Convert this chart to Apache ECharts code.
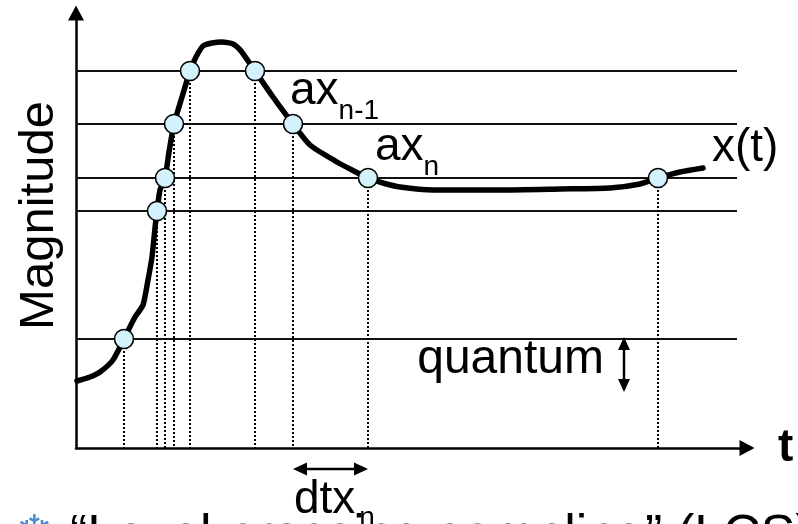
<!DOCTYPE html>
<html>
<head>
<meta charset="utf-8">
<script src="https://cdn.jsdelivr.net/npm/echarts@6/dist/echarts.min.js"></script>
<style>
  html, body { margin: 0; padding: 0; background: #fff; }
  #chart { width: 798px; height: 524px; }
</style>
</head>
<body>
<div id="chart"></div>
<script>
// Signal x(t): time / magnitude samples along the curve
const curveT = [0.01, 0.14, 0.24, 0.37, 0.48, 0.59, 0.67, 0.72, 0.76, 0.79, 0.81, 0.84, 0.89, 0.93, 0.98,
                1.06, 1.14, 1.20, 1.27, 1.36, 1.46, 1.57, 1.65, 1.79, 1.97, 2.17, 2.34, 2.61, 2.76, 2.92,
                3.07, 3.24, 3.57, 4.24, 4.84, 5.34, 5.64, 5.82, 6.04, 6.27];
const curveM = [0.67, 0.71, 0.76, 0.88, 1.09, 1.31, 1.43, 1.68, 1.91, 2.20, 2.37, 2.58, 2.70, 2.96, 3.24,
                3.51, 3.77, 3.91, 4.02, 4.05, 4.06, 4.04, 3.97, 3.77, 3.51, 3.24, 3.03, 2.86, 2.78, 2.70,
                2.65, 2.61, 2.58, 2.58, 2.59, 2.60, 2.64, 2.70, 2.76, 2.80];

// Quantisation levels and the quantum step
const levels = [1.09, 2.37, 2.70, 3.24, 3.77];
const levelEnd = 6.61;
const quantum = 0.53;
const quantumT = 5.48;

// Level-crossing instants and the level crossed at each
const sampleT = [0.48, 0.81, 0.89, 0.98, 1.14, 1.79, 2.17, 2.92, 5.82];
const sampleM = [1.09, 2.37, 2.70, 3.24, 3.77, 3.77, 3.24, 2.70, 2.70];

// Axis extents
const tMax = 6.71;
const mMax = 4.35;

// Annotation texts (main part + subscript)
const annoMain = ['ax', 'ax', 'x(t)'];
const annoSub = ['n-1', 'n', ''];
const annoT = [sampleT[6], sampleT[7], curveT[curveT.length - 1]];
const annoM = [sampleM[6], sampleM[7], curveM[curveM.length - 1]];

// Caption line under the diagram
const captionBullet = '\u2744';
const captionText = '\u201CLevel-crossing sampling\u201D (LCS)';

const FONT = '"Liberation Sans", Arial, Helvetica, sans-serif';
const MID = 0.31; // em-box middle sits this far above the alphabetic baseline

const ctx2d = document.createElement('canvas').getContext('2d');
function measure(s, size, weight) {
  ctx2d.font = (weight || 'normal') + ' ' + size + 'px ' + FONT;
  return ctx2d.measureText(s).width;
}
function txt(s, x, base, size, weight, align, family, fill) {
  return {
    type: 'text', x: x, y: base - MID * size,
    style: { text: s, font: (weight || 'normal') + ' ' + size + 'px ' + (family || FONT), fill: fill || '#000',
             align: align || 'left', verticalAlign: 'middle' }
  };
}
// main text followed by a lowered, smaller subscript
function withSub(main, sub, x, base, size, subSize, drop, gap) {
  const els = [txt(main, x, base, size)];
  if (sub) els.push(txt(sub, x + measure(main, size) + (gap || 0), base + drop, subSize));
  return els;
}
function arrowHead(tip, dx, dy, len, half) {
  const bx = tip[0] - dx * len, by = tip[1] - dy * len;
  return {
    type: 'polygon',
    shape: { points: [tip, [bx - dy * half, by + dx * half], [bx + dy * half, by - dx * half]] },
    style: { fill: '#000' }
  };
}

const chart = echarts.init(document.getElementById('chart'), null, { renderer: 'canvas' });

const axisCommon = {
  type: 'value',
  min: 0,
  axisTick: { show: false },
  axisLabel: { show: false },
  splitLine: { show: false },
  axisLine: {
    show: true,
    symbol: ['none', 'triangle'],
    symbolSize: [16, 15],
    lineStyle: { color: '#000', width: 2.5 }
  }
};

chart.setOption({
  animation: false,
  backgroundColor: '#fff',
  grid: { left: 76, right: 51, top: 13, bottom: 76, containLabel: false },
  xAxis: Object.assign({}, axisCommon, {
    max: tMax,
    name: 't',
    nameLocation: 'end',
    nameGap: 31,
    nameTextStyle: { fontFamily: FONT, fontSize: 46, fontWeight: 'bold', color: '#000',
                     verticalAlign: 'middle', padding: [10, 0, 0, 0] }
  }),
  yAxis: Object.assign({}, axisCommon, {
    max: mMax,
    name: 'Magnitude',
    nameLocation: 'middle',
    nameRotate: 90,
    nameGap: 12,
    nameTextStyle: { fontFamily: FONT, fontSize: 49, color: '#000', padding: [0, 0, 0, 30] }
  }),
  series: [
    {
      // quantisation levels
      type: 'custom', z: 1, silent: true,
      data: levels.map(v => [0, v]),
      renderItem: function (params, api) {
        const a = api.coord([0, api.value(1)]);
        const b = api.coord([levelEnd, api.value(1)]);
        return { type: 'line', shape: { x1: a[0], y1: a[1], x2: b[0], y2: b[1] },
                 style: { stroke: '#111', lineWidth: 2 } };
      }
    },
    {
      // dotted drop lines from each crossing to the time axis
      type: 'custom', z: 1, silent: true,
      data: sampleT.map((t, i) => [t, sampleM[i]]),
      renderItem: function (params, api) {
        const a = api.coord([api.value(0), api.value(1)]);
        const b = api.coord([api.value(0), 0]);
        return { type: 'line', shape: { x1: a[0], y1: a[1], x2: b[0], y2: b[1] },
                 style: { stroke: '#000', lineWidth: 2, lineDash: [2, 2] } };
      }
    },
    {
      // the signal
      type: 'line', z: 2, silent: true,
      data: curveT.map((t, i) => [t, curveM[i]]),
      showSymbol: false, symbol: 'none',
      smooth: 0.2,
      lineStyle: { color: '#000', width: 5.5, cap: 'round', join: 'round' }
    },
    {
      // level-crossing samples
      type: 'scatter', z: 3, silent: true,
      data: sampleT.map((t, i) => [t, sampleM[i]]),
      symbol: 'circle', symbolSize: 19,
      itemStyle: { color: '#d4f2fb', borderColor: '#000', borderWidth: 1.6, opacity: 1 }
    },
    {
      // sample / signal labels
      type: 'custom', z: 4, silent: true,
      data: annoT.map((t, i) => [t, annoM[i]]),
      renderItem: function (params, api) {
        const i = params.dataIndex;
        const p = api.coord([api.value(0), api.value(1)]);
        const off = [[-3, -18], [7, -16], [9, -5]][i];
        return { type: 'group',
                 children: withSub(annoMain[i], annoSub[i], p[0] + off[0], p[1] + off[1], 46, 28, 14, 0) };
      }
    },
    {
      // dtx_n : time between two consecutive crossings
      type: 'custom', z: 4, silent: true,
      data: [[sampleT[6], sampleT[7]]],
      renderItem: function (params, api) {
        const a = api.coord([api.value(0), 0]);
        const b = api.coord([api.value(1), 0]);
        const y = a[1] + 21;
        const kids = [
          { type: 'line', shape: { x1: a[0] + 8, y1: y, x2: b[0] - 8, y2: y },
            style: { stroke: '#000', lineWidth: 2.5 } },
          arrowHead([a[0], y], -1, 0, 14, 6.5),
          arrowHead([b[0], y], 1, 0, 14, 6.5)
        ].concat(withSub('dtx', 'n', a[0] + 1, y + 46, 46, 28, 12, 4));
        return { type: 'group', children: kids };
      }
    },
    {
      // quantum step between two adjacent levels
      type: 'custom', z: 4, silent: true,
      data: [[quantumT, levels[0], quantum]],
      renderItem: function (params, api) {
        const top = api.coord([api.value(0), api.value(1)]);
        const bot = api.coord([api.value(0), api.value(1) - api.value(2)]);
        return { type: 'group', children: [
          { type: 'line', shape: { x1: top[0], y1: top[1] + 8, x2: bot[0], y2: bot[1] - 8 },
            style: { stroke: '#000', lineWidth: 2.5 } },
          arrowHead([top[0], top[1] - 2], 0, -1, 13, 6),
          arrowHead([bot[0], bot[1]], 0, 1, 13, 6),
          txt('quantum', top[0] - 20, top[1] + 36, 48, 'normal', 'right')
        ] };
      }
    },
    {
      // caption line below the time axis (only its top edge fits in view)
      type: 'custom', z: 3, silent: true,
      data: [[0, 0]],
      renderItem: function (params, api) {
        const o = api.coord([0, 0]);
        return { type: 'group', children: [
          txt(captionBullet, o[0] - 60, o[1] + 100, 44, 'normal', 'left', '"DejaVu Sans", sans-serif', '#4a8fcf'),
          txt(captionText, o[0] - 6, o[1] + 105, 52)
        ] };
      }
    }
  ]
});
</script>
</body>
</html>
